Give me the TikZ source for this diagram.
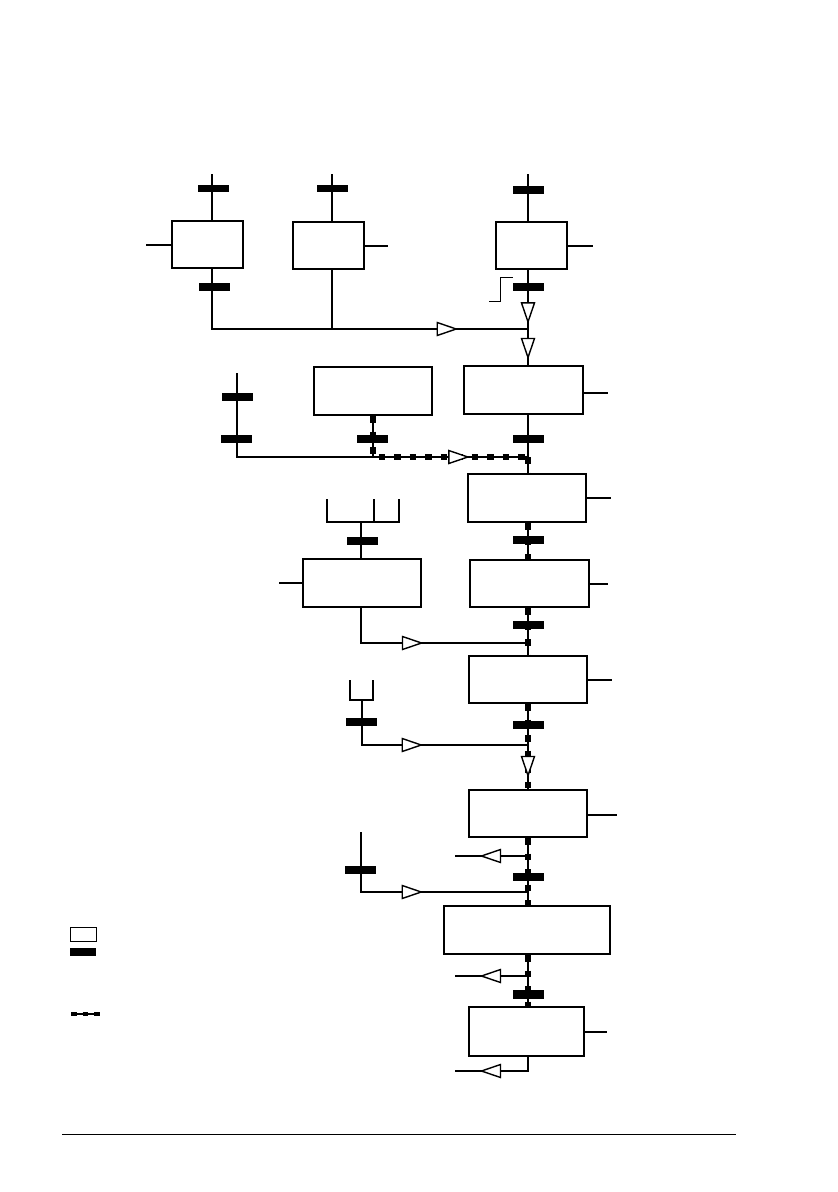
\documentclass[tikz,border=0pt]{standalone}
\tikzset{
  pics/tri/.style={code={\draw[fill=white, line width=1.4pt, line join=miter] (-9.5,-6.5) -- (9.5,0) -- (-9.5,6.5) -- cycle;}},
  box/.style={draw, fill=white, line width=2pt, inner sep=0pt},
  barnode/.style={fill=black, inner sep=0pt, minimum width=31pt, minimum height=7.5pt},
  ln/.style={line width=2pt},
  thinln/.style={line width=1.4pt},
  dsh/.style={line width=2pt, postaction={draw, line width=5.5pt, dash pattern=on 6.5pt off 9pt}}
}
\begin{document}
\begin{tikzpicture}[x=1pt,y=-1pt]
\useasboundingbox (0,0) rectangle (838,1192);
% boxes
\node[box, minimum width=71pt, minimum height=47pt] (A) at (207.5,244.5) {};
\node[box, minimum width=71pt, minimum height=47pt] (B) at (328.5,245.5) {};
\node[box, minimum width=71pt, minimum height=47pt] (C) at (531.5,245.5) {};
\node[box, minimum width=119pt, minimum height=48pt] (D) at (523.5,390) {};
\node[box, minimum width=118pt, minimum height=48pt] (F) at (373,391) {};
\node[box, minimum width=118pt, minimum height=48pt] (E) at (527,498) {};
\node[box, minimum width=119pt, minimum height=47pt] (G) at (529.5,583.5) {};
\node[box, minimum width=118pt, minimum height=48pt] (I) at (362,583) {};
\node[box, minimum width=118pt, minimum height=47pt] (H) at (528,679.5) {};
\node[box, minimum width=118pt, minimum height=47pt] (J) at (528,813.5) {};
\node[box, minimum width=166pt, minimum height=48pt] (K) at (527,930) {};
\node[box, minimum width=115pt, minimum height=49pt] (L) at (526.5,1031.5) {};
% coordinates
\coordinate (ta) at (212,174);
\coordinate (tb) at (332,174);
\coordinate (tc) at (528,174);
\coordinate (j1) at (528,329);
\coordinate (j2) at (528,457);
\coordinate (tl) at (237,373);
\coordinate (j3) at (373,457);
\coordinate (f1) at (327,499);
\coordinate (f2) at (399,499);
\coordinate (fm) at (374,499);
\coordinate (fb) at (361,522);
\coordinate (j4) at (528,643);
\coordinate (u1) at (350,680);
\coordinate (u2) at (373,680);
\coordinate (ub) at (362,700);
\coordinate (j5) at (528,745);
\coordinate (j6) at (528,856);
\coordinate (e6) at (455,856);
\coordinate (v1) at (361,832);
\coordinate (j7) at (528,892);
\coordinate (j8) at (528,976);
\coordinate (e8) at (455,976);
\coordinate (j9) at (528,1071);
\coordinate (e9) at (455,1071);
% top group
\draw[ln] (ta) -- (ta |- A.north);
\draw[ln] (ta |- A.south) -- (ta |- j1) -- (j1);
\draw[ln] (tb) -- (tb |- B.north);
\draw[ln] (tb |- B.south) -- (tb |- j1);
\draw[ln] (tc) -- (tc |- C.north);
\draw[ln] (tc |- C.south) -- (j1) -- (tc |- D.north);
\draw[line width=1pt] (489,301) -- (500,301) -- (500,277) -- (513,277);
% second group
\draw[ln] (tc |- D.south) -- (j2);
\draw[dsh] (j2) -- (tc |- E.north);
\draw[ln] (tl) -- (tl |- j2) -- (j3);
\draw[dsh] (F.south) -- (j3) -- (j2);
\draw[dsh] (tc |- E.south) -- (tc |- G.north);
% fork and I
\draw[ln] (f1) -- (f1 |- fb) -- (f2 |- fb) -- (f2);
\draw[ln] (fm) -- (fm |- fb);
\draw[ln] (fb) -- (fb |- I.north);
\draw[thinln] (fb |- I.south) -- (fb |- j4) -- (j4);
\draw[dsh] (tc |- G.south) -- (tc |- H.north);
% U
\draw[ln] (u1) -- (u1 |- ub) -- (u2 |- ub) -- (u2);
\draw[ln] (ub) -- (ub |- j5) -- (j5);
\draw[dsh] (tc |- H.south) -- (tc |- J.north);
% J, K, L
\draw[dsh] (tc |- J.south) -- (tc |- K.north);
\draw[ln] (j6) -- (e6);
\draw[ln] (v1) -- (v1 |- j7) -- (j7);
\draw[dsh] (tc |- K.south) -- (tc |- L.north);
\draw[ln] (j8) -- (e8);
\draw[ln] (tc |- L.south) -- (j9) -- (e9);
% stubs
\draw[ln] (A.west) -- ++(-25,0);
\draw[ln] (B.east) -- ++(23,0);
\draw[ln] (C.east) -- ++(25,0);
\draw[ln] ([yshift=-3pt]D.east) -- ++(24,0);
\draw[ln] (E.east) -- ++(24,0);
\draw[ln] (G.east) -- ++(18,0);
\draw[ln] (I.west) -- ++(-23,0);
\draw[ln] (H.east) -- ++(24,0);
\draw[ln] ([yshift=-1.5pt]J.east) -- ++(29,0);
\draw[ln] (L.east) -- ++(22,0);
% triangles
\pic at (446.7,329) {tri};
\pic[rotate=-90] at (528,312.4) {tri};
\pic[rotate=-90] at (528,348) {tri};
\pic at (458.3,457) {tri};
\pic at (412,643) {tri};
\pic at (411.7,745) {tri};
\pic[rotate=-90] at (528,766) {tri};
\pic at (411.7,892) {tri};
\pic[rotate=180] at (491,856) {tri};
\pic[rotate=180] at (491,976) {tri};
\pic[rotate=180] at (491,1071) {tri};
% bars
\node[barnode] (ba1) at (213,188.5) {};
\node[barnode] (ba2) at (214,287) {};
\node[barnode] (bb1) at (332,188.5) {};
\node[barnode] (bc1) at (528,190) {};
\node[barnode] (bc2) at (528,287) {};
\node[barnode] (bd) at (528,439) {};
\node[barnode] (bf) at (372.5,439) {};
\node[barnode] (bl1) at (237.3,397) {};
\node[barnode] (bl2) at (236,439) {};
\node[barnode] (be) at (528,540) {};
\node[barnode] (bi) at (362.5,541) {};
\node[barnode] (bg) at (528,625) {};
\node[barnode] (bh) at (528,725) {};
\node[barnode] (bu) at (361.5,722) {};
\node[barnode] (bj) at (528,877) {};
\node[barnode] (bv) at (360.5,870) {};
\node[barnode, minimum height=8.5pt] (bk) at (528,994.5) {};
% legend
\node[draw, line width=1.2pt, minimum width=26pt, minimum height=14pt, inner sep=0pt] (lg1) at (83.5,934.5) {};
\node[fill=black, minimum width=26pt, minimum height=7.5pt, inner sep=0pt] (lg2) at (83,952) {};
\coordinate (lg3a) at (71,1014);
\coordinate (lg3b) at (100,1014);
\draw[line width=1.2pt, postaction={draw, line width=4.7pt, dash pattern=on 5.7pt off 6pt}] (lg3a) -- (lg3b);
% footer rule
\coordinate (fr1) at (62,1134);
\coordinate (fr2) at (736,1134);
\draw[line width=1pt] (fr1) -- (fr2);
\end{tikzpicture}
\end{document}
